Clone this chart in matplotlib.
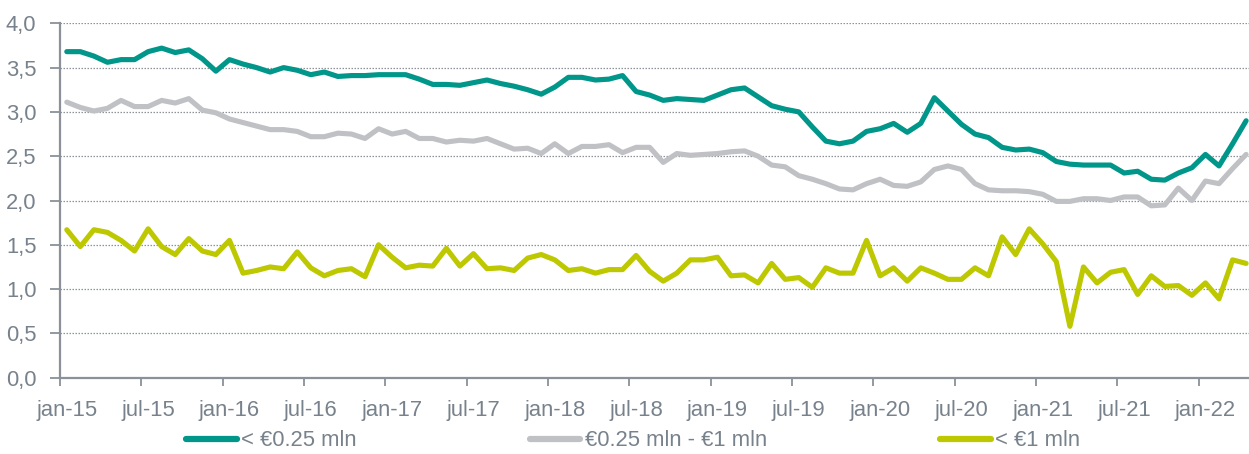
import matplotlib
matplotlib.use("Agg")
from matplotlib import pyplot as plt
import numpy as np

# monthly data, jan-15 .. apr-22
months = [f"{m}-{y:02d}" for y in range(15, 23) for m in
          ["jan", "feb", "mrt", "apr", "mei", "jun", "jul", "aug", "sep", "okt", "nov", "dec"]][:88]

small = [3.68, 3.68, 3.63, 3.56, 3.59, 3.59, 3.68, 3.72, 3.67, 3.70,
         3.60, 3.46, 3.59, 3.54, 3.50, 3.45, 3.50, 3.47, 3.42, 3.45,
         3.40, 3.41, 3.41, 3.42, 3.42, 3.42, 3.37, 3.31, 3.31, 3.30,
         3.33, 3.36, 3.32, 3.29, 3.25, 3.20, 3.28, 3.39, 3.39, 3.36,
         3.37, 3.41, 3.23, 3.19, 3.13, 3.15, 3.14, 3.13, 3.19, 3.25,
         3.27, 3.17, 3.07, 3.03, 3.00, 2.83, 2.67, 2.64, 2.67, 2.78,
         2.81, 2.87, 2.77, 2.87, 3.16, 3.01, 2.86, 2.75, 2.71, 2.60,
         2.57, 2.58, 2.54, 2.44, 2.41, 2.40, 2.40, 2.40, 2.31, 2.33,
         2.24, 2.23, 2.31, 2.37, 2.52, 2.39, 2.64, 2.90]

medium = [3.11, 3.05, 3.01, 3.04, 3.13, 3.06, 3.06, 3.13, 3.10, 3.15,
          3.02, 2.99, 2.92, 2.88, 2.84, 2.80, 2.80, 2.78, 2.72, 2.72,
          2.76, 2.75, 2.70, 2.81, 2.75, 2.78, 2.70, 2.70, 2.66, 2.68,
          2.67, 2.70, 2.64, 2.58, 2.59, 2.53, 2.64, 2.53, 2.61, 2.61,
          2.63, 2.54, 2.60, 2.60, 2.43, 2.53, 2.51, 2.52, 2.53, 2.55,
          2.56, 2.50, 2.40, 2.38, 2.28, 2.24, 2.19, 2.13, 2.12, 2.19,
          2.24, 2.17, 2.16, 2.21, 2.35, 2.39, 2.35, 2.19, 2.12, 2.11,
          2.11, 2.10, 2.07, 1.99, 1.99, 2.02, 2.02, 2.00, 2.04, 2.04,
          1.94, 1.95, 2.14, 2.00, 2.22, 2.19, 2.36, 2.52]

under_1m = [1.67, 1.48, 1.67, 1.64, 1.55, 1.43, 1.68, 1.48, 1.39, 1.57,
            1.43, 1.39, 1.55, 1.18, 1.21, 1.25, 1.23, 1.42, 1.24, 1.15,
            1.21, 1.23, 1.14, 1.50, 1.36, 1.24, 1.27, 1.26, 1.46, 1.26,
            1.40, 1.23, 1.24, 1.21, 1.35, 1.39, 1.33, 1.21, 1.23, 1.18,
            1.22, 1.22, 1.38, 1.20, 1.09, 1.18, 1.33, 1.33, 1.36, 1.15,
            1.16, 1.07, 1.29, 1.11, 1.13, 1.02, 1.24, 1.18, 1.18, 1.55,
            1.15, 1.24, 1.09, 1.24, 1.18, 1.11, 1.11, 1.24, 1.15, 1.59,
            1.39, 1.68, 1.51, 1.31, 0.58, 1.25, 1.07, 1.19, 1.22, 0.94,
            1.15, 1.03, 1.04, 0.93, 1.07, 0.89, 1.33, 1.29]

labels = ["< €0.25 mln", "€0.25 mln - €1 mln", "< €1 mln"]
colors = ["#00968A", "#BFC1C5", "#BDC800"]

text_col = "#78828C"
axis_col = "#8A9199"

plt.rcParams["font.family"] = ["Liberation Sans", "DejaVu Sans"]
plt.rcParams["font.size"] = 15.8

fig = plt.figure(figsize=(12.49, 4.54), dpi=100)
ax = fig.add_axes([60 / 1249, 76.3 / 454, 1192.9 / 1249, 354.4 / 454])

x = np.arange(len(months))
for series, lab, col in zip([small, medium, under_1m], labels, colors):
    ax.plot(x, series, color=col, lw=3.7, label=lab, solid_joinstyle="round",
            solid_capstyle="round")

ax.set_xlim(-0.5, len(months) - 0.5)
ax.set_ylim(0, 4)

# ticks at month boundaries, labels on first month of every half year
ax.set_xticks(np.arange(-0.5, len(months), 6))
ax.set_xticklabels([])
ax.set_xticks(np.arange(0, len(months), 6), minor=True)
ax.set_xticklabels([months[i] for i in range(0, len(months), 6)], minor=True)
ax.tick_params(axis="x", which="major", length=6, width=1.3, color=axis_col)
ax.tick_params(axis="x", which="minor", length=0, pad=16, labelcolor=text_col)

ax.set_yticks(np.arange(0, 4.01, 0.5))
ax.set_yticklabels([f"{v:.1f}".replace(".", ",") for v in np.arange(0, 4.01, 0.5)])
ax.tick_params(axis="y", length=7, width=1.3, color=axis_col, pad=10, labelcolor=text_col)

ax.grid(axis="y", color="#8E939A", lw=0.9, linestyle=(0, (1.2, 1.2)))
ax.set_axisbelow(True)

for s in ["top", "right"]:
    ax.spines[s].set_visible(False)
for s in ["left", "bottom"]:
    ax.spines[s].set_color(axis_col)
    ax.spines[s].set_linewidth(1.6)

leg = fig.legend(loc="center", bbox_to_anchor=(633 / 1249, 13 / 454), ncol=3,
                 frameon=False, handlelength=2.3, handletextpad=0.2,
                 columnspacing=7.9, borderaxespad=0)
for t in leg.get_texts():
    t.set_color(text_col)
for h in leg.legend_handles:
    h.set_linewidth(4.5)
    h.set_solid_capstyle("round")

plt.savefig("out.png", dpi=100)
